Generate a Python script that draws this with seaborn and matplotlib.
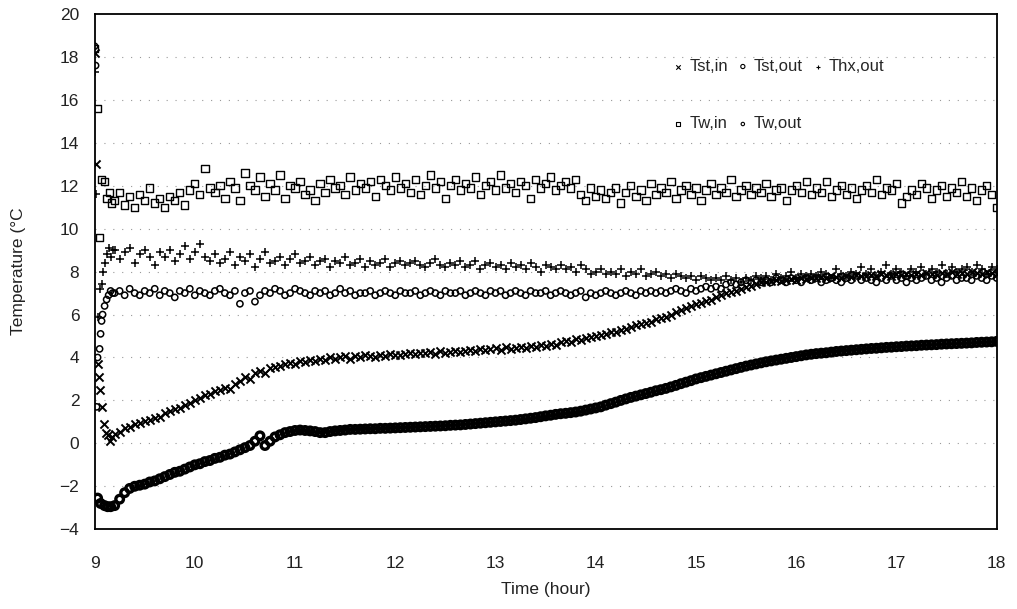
import numpy as np
import pandas as pd
import matplotlib
matplotlib.use("Agg")
import matplotlib.pyplot as plt
import seaborn as sns

# regular samples every 0.05 h from 9.20 to 18.00
t_grid = np.round(np.linspace(9.20, 18.00, 177), 2)

# ---- Tw,in (squares)
tw_in_t0 = [9.00, 9.03, 9.05, 9.07, 9.10, 9.12, 9.15, 9.17]
tw_in_v0 = [18.4, 15.6, 9.6, 12.3, 12.2, 11.4, 11.7, 11.2]
tw_in = [
    11.3, 11.7, 11.1, 11.5, 11.0, 11.6, 11.3, 11.9, 11.2, 11.4,
    11.0, 11.5, 11.3, 11.7, 11.1, 11.8, 12.1, 11.6, 12.8, 11.9,
    11.7, 12.0, 11.4, 12.2, 11.9, 11.3, 12.6, 12.0, 11.8, 12.4,
    11.5, 12.1, 11.8, 12.5, 11.4, 12.0, 11.9, 12.2, 11.6, 11.8,
    11.3, 12.1, 11.7, 12.3, 11.9, 12.0, 11.6, 12.4, 11.8, 12.1,
    11.9, 12.2, 11.5, 12.3, 12.0, 11.8, 12.4, 11.9, 12.1, 11.7,
    12.3, 11.6, 12.0, 12.5, 11.9, 12.2, 11.4, 12.0, 12.3, 11.8,
    12.1, 11.9, 12.4, 11.6, 12.0, 12.2, 11.8, 12.5, 11.9, 12.1,
    11.7, 12.2, 12.0, 11.4, 12.3, 11.9, 12.1, 12.4, 11.8, 12.0,
    12.2, 11.9, 12.3, 11.6, 11.3, 11.9, 11.5, 11.8, 11.4, 11.7,
    11.9, 11.2, 11.7, 12.0, 11.5, 11.8, 11.3, 12.1, 11.6, 11.9,
    11.7, 12.2, 11.4, 11.8, 12.0, 11.6, 11.9, 11.3, 11.8, 12.1,
    11.6, 11.9, 11.7, 12.3, 11.5, 11.8, 12.0, 11.6, 11.9, 11.7,
    12.1, 11.5, 11.8, 11.9, 11.3, 11.8, 12.0, 11.7, 12.2, 11.6,
    11.9, 11.7, 12.2, 11.5, 11.8, 12.0, 11.6, 11.9, 11.4, 11.8,
    12.0, 11.7, 12.3, 11.6, 11.9, 11.8, 12.1, 11.2, 11.5, 11.8,
    11.6, 12.1, 11.9, 11.4, 11.8, 12.0, 11.5, 11.9, 11.7, 12.2,
    11.5, 11.9, 11.3, 11.8, 12.0, 11.6, 11.0,
]

# ---- Thx,out (plus)
thx_t0 = [9.00, 9.01, 9.03, 9.05, 9.07, 9.08, 9.10, 9.12, 9.14, 9.16, 9.18]
thx_v0 = [17.3, 11.6, 5.9, 7.2, 7.4, 8.0, 8.4, 8.8, 9.1, 8.7, 9.0]
thx_out = [
    9.0, 8.6, 8.9, 9.1, 8.4, 8.8, 9.0, 8.7, 8.3, 8.9,
    8.7, 9.0, 8.5, 8.8, 9.2, 8.6, 8.9, 9.3, 8.7, 8.5,
    8.8, 8.4, 8.6, 8.9, 8.3, 8.7, 8.5, 8.8, 8.2, 8.6,
    8.9, 8.4, 8.5, 8.7, 8.3, 8.6, 8.8, 8.4, 8.5, 8.7,
    8.3, 8.5, 8.6, 8.2, 8.5, 8.4, 8.7, 8.3, 8.4, 8.6,
    8.2, 8.5, 8.3, 8.4, 8.6, 8.2, 8.4, 8.5, 8.3, 8.4,
    8.5, 8.3, 8.2, 8.4, 8.6, 8.3, 8.2, 8.4, 8.3, 8.5,
    8.2, 8.3, 8.5, 8.1, 8.3, 8.4, 8.2, 8.3, 8.1, 8.4,
    8.2, 8.3, 8.1, 8.4, 8.2, 8.0, 8.3, 8.2, 8.1, 8.3,
    8.1, 8.2, 8.0, 8.3, 8.1, 7.9, 8.0, 8.1, 7.9, 8.0,
    7.9, 8.1, 7.8, 8.0, 7.9, 8.1, 7.8, 7.9, 8.0, 7.8,
    7.9, 7.7, 7.9, 7.8, 7.7, 7.8, 7.6, 7.8, 7.7, 7.6,
    7.7, 7.6, 7.8, 7.6, 7.7, 7.5, 7.7, 7.6, 7.8, 7.7,
    7.8, 7.6, 7.9, 7.7, 7.8, 8.0, 7.7, 7.9, 7.8, 7.9,
    7.8, 8.0, 7.9, 7.7, 8.1, 7.9, 7.8, 8.0, 7.9, 8.2,
    7.9, 8.1, 7.8, 8.0, 8.3, 7.9, 8.1, 8.0, 7.8, 8.1,
    8.0, 8.2, 7.9, 8.1, 8.0, 8.3, 7.9, 8.2, 8.0, 8.1,
    8.2, 8.0, 8.3, 8.1, 7.9, 8.2, 8.1,
]

# ---- Tw,out (small circles)
tw_out_t0 = [9.00, 9.01, 9.02, 9.03, 9.05, 9.06, 9.07, 9.08, 9.10, 9.12, 9.14, 9.16, 9.18]
tw_out_v0 = [18.5, 17.6, 1.7, 4.0, 4.4, 5.1, 5.7, 6.0, 6.4, 6.7, 6.9, 7.1, 7.0]
tw_out = [
    7.0, 7.1, 6.9, 7.2, 7.0, 6.9, 7.1, 7.0, 7.2, 6.9,
    7.1, 7.0, 6.8, 7.1, 7.0, 7.2, 6.9, 7.1, 7.0, 6.9,
    7.1, 7.2, 7.0, 6.9, 7.1, 6.5, 7.0, 7.1, 6.6, 6.9,
    7.1, 7.0, 7.2, 7.1, 6.9, 7.0, 7.2, 7.1, 7.0, 6.9,
    7.1, 7.0, 7.1, 6.9, 7.0, 7.2, 7.0, 7.1, 6.9, 7.0,
    7.0, 7.1, 6.9, 7.0, 7.1, 7.0, 6.9, 7.1, 7.0, 7.0,
    7.1, 6.9, 7.0, 7.1, 7.0, 6.9, 7.1, 7.0, 7.0, 7.1,
    6.9, 7.0, 7.1, 7.0, 6.9, 7.1, 7.0, 7.1, 6.9, 7.0,
    7.1, 7.0, 6.9, 7.1, 7.0, 7.0, 7.1, 6.9, 7.0, 7.1,
    7.0, 6.9, 7.0, 7.1, 6.8, 7.0, 6.9, 7.0, 7.1, 7.0,
    6.9, 7.0, 7.1, 7.0, 6.9, 7.1, 7.0, 7.1, 7.0, 7.1,
    7.0, 7.1, 7.2, 7.1, 7.0, 7.2, 7.1, 7.2, 7.3, 7.2,
    7.3, 7.2, 7.4, 7.5, 7.4, 7.5, 7.6, 7.5, 7.6, 7.5,
    7.6, 7.5, 7.7, 7.6, 7.5, 7.7, 7.6, 7.5, 7.7, 7.6,
    7.7, 7.5, 7.6, 7.7, 7.6, 7.5, 7.7, 7.6, 7.8, 7.6,
    7.7, 7.6, 7.5, 7.7, 7.6, 7.8, 7.6, 7.7, 7.5, 7.7,
    7.6, 7.7, 7.8, 7.6, 7.7, 7.5, 7.7, 7.8, 7.6, 7.7,
    7.7, 7.6, 7.8, 7.7, 7.6, 7.8, 7.7,
]

# ---- Tst,in (crosses)
tst_in_t0 = [9.00, 9.01, 9.03, 9.04, 9.05, 9.07, 9.09, 9.11, 9.13, 9.15, 9.17]
tst_in_v0 = [18.2, 13.0, 3.7, 3.1, 2.5, 1.7, 0.9, 0.5, 0.4, 0.1, 0.3]
tst_in = [
    0.45, 0.55, 0.7, 0.75, 0.9, 0.95, 1.05, 1.1, 1.2, 1.25,
    1.4, 1.5, 1.6, 1.65, 1.8, 1.9, 2.0, 2.1, 2.25, 2.3,
    2.45, 2.5, 2.6, 2.55, 2.75, 2.9, 3.1, 3.0, 3.3, 3.35,
    3.3, 3.5, 3.55, 3.6, 3.7, 3.75, 3.7, 3.85, 3.8, 3.9,
    3.85, 3.95, 3.9, 4.0, 3.95, 4.0, 4.05, 3.95, 4.05, 4.0,
    4.1, 4.05, 4.0, 4.1, 4.05, 4.15, 4.1, 4.1, 4.15, 4.2,
    4.15, 4.2, 4.2, 4.25, 4.15, 4.3, 4.2, 4.25, 4.3, 4.25,
    4.3, 4.35, 4.3, 4.4, 4.35, 4.4, 4.45, 4.35, 4.5, 4.4,
    4.45, 4.5, 4.45, 4.55, 4.5, 4.6, 4.55, 4.65, 4.6, 4.7,
    4.75, 4.7, 4.85, 4.8, 4.9, 4.95, 5.0, 5.05, 5.1, 5.2,
    5.2, 5.3, 5.35, 5.4, 5.5, 5.55, 5.6, 5.65, 5.8, 5.85,
    5.9, 6.0, 6.1, 6.2, 6.3, 6.4, 6.5, 6.55, 6.65, 6.7,
    6.8, 6.9, 7.0, 7.05, 7.1, 7.2, 7.3, 7.35, 7.4, 7.5,
    7.5, 7.55, 7.6, 7.55, 7.6, 7.65, 7.6, 7.7, 7.65, 7.7,
    7.7, 7.75, 7.7, 7.8, 7.75, 7.7, 7.8, 7.75, 7.85, 7.8,
    7.8, 7.85, 7.8, 7.9, 7.85, 7.8, 7.9, 7.85, 7.9, 7.85,
    7.9, 7.85, 7.95, 7.9, 7.85, 7.95, 7.9, 8.0, 7.9, 7.95,
    7.9, 8.0, 7.95, 7.9, 8.0, 7.95, 7.9,
]

# ---- Tst,out (small circles, bottom curve)
tst_out_t0 = [9.03, 9.06, 9.10, 9.13, 9.16]
tst_out_v0 = [-2.55, -2.8, -2.9, -2.95, -2.95]
tst_out = [
    -2.9, -2.6, -2.3, -2.1, -2.0, -1.95, -1.9, -1.8, -1.75, -1.65,
    -1.55, -1.45, -1.35, -1.3, -1.2, -1.1, -1.0, -0.95, -0.85, -0.8,
    -0.7, -0.65, -0.55, -0.5, -0.4, -0.3, -0.2, -0.1, 0.1, 0.35,
    -0.1, 0.1, 0.3, 0.4, 0.5, 0.55, 0.6, 0.62, 0.6, 0.58,
    0.55, 0.5, 0.5, 0.55, 0.58, 0.6, 0.62, 0.65, 0.65, 0.66,
    0.67, 0.68, 0.68, 0.7, 0.7, 0.71, 0.72, 0.73, 0.74, 0.75,
    0.76, 0.77, 0.78, 0.79, 0.8, 0.81, 0.82, 0.84, 0.85, 0.86,
    0.88, 0.9, 0.92, 0.94, 0.96, 0.98, 1.0, 1.02, 1.04, 1.06,
    1.08, 1.11, 1.14, 1.17, 1.2, 1.24, 1.28, 1.31, 1.35, 1.38,
    1.4, 1.43, 1.46, 1.5, 1.55, 1.6, 1.65, 1.7, 1.78, 1.85,
    1.92, 2.0, 2.07, 2.14, 2.2, 2.26, 2.32, 2.38, 2.45, 2.5,
    2.56, 2.63, 2.7, 2.78, 2.85, 2.92, 3.0, 3.06, 3.12, 3.18,
    3.24, 3.3, 3.36, 3.42, 3.48, 3.54, 3.6, 3.65, 3.7, 3.75,
    3.8, 3.84, 3.88, 3.92, 3.96, 4.0, 4.04, 4.08, 4.12, 4.15,
    4.18, 4.2, 4.22, 4.25, 4.28, 4.3, 4.32, 4.34, 4.36, 4.38,
    4.4, 4.42, 4.43, 4.45, 4.47, 4.48, 4.5, 4.51, 4.53, 4.54,
    4.55, 4.57, 4.58, 4.59, 4.6, 4.62, 4.63, 4.64, 4.65, 4.66,
    4.67, 4.68, 4.7, 4.71, 4.72, 4.73, 4.75,
]

x_ticks = [9, 10, 11, 12, 13, 14, 15, 16, 17, 18]
y_ticks = [-4, -2, 0, 2, 4, 6, 8, 10, 12, 14, 16, 18, 20]


def series(t0, v0, v):
    return pd.DataFrame({"t": list(t0) + list(t_grid), "T": list(v0) + list(v)})


sns.set_style("white")
plt.rcParams["font.family"] = ["Liberation Sans", "DejaVu Sans"]

fig, ax = plt.subplots(figsize=(10.17, 6.09), dpi=100)
fig.subplots_adjust(left=0.093, right=0.980, bottom=0.131, top=0.977)

for y in y_ticks[1:-1]:
    ax.axhline(y, color="#9a9a9a", lw=0.8, ls=(0, (1, 7)), zorder=0)

d = series(tst_in_t0, tst_in_v0, tst_in)
sns.scatterplot(data=d, x="t", y="T", marker="x", color="black", s=34,
                linewidth=1.4, label="Tst,in", ax=ax)
d = series(tw_in_t0, tw_in_v0, tw_in)
sns.scatterplot(data=d, x="t", y="T", marker="s", facecolor="none",
                edgecolor="black", s=28, linewidth=1.0, label="Tw,in", ax=ax)
d = series(tst_out_t0, tst_out_v0, tst_out)
sns.scatterplot(data=d, x="t", y="T", marker="o", facecolor="none",
                edgecolor="black", s=30, linewidth=2.4, label="Tst,out", ax=ax)
d = series(tw_out_t0, tw_out_v0, tw_out)
sns.scatterplot(data=d, x="t", y="T", marker="o", facecolor="none",
                edgecolor="black", s=20, linewidth=1.1, label="Tw,out", ax=ax)
d = series(thx_t0, thx_v0, thx_out)
sns.scatterplot(data=d, x="t", y="T", marker="+", color="black", s=40,
                linewidth=1.1, label="Thx,out", ax=ax)

handles, labels = ax.get_legend_handles_labels()
order = ["Tst,in", "Tw,in", "Tst,out", "Tw,out", "Thx,out"]
hmap = dict(zip(labels, handles))
leg = ax.legend([hmap[k] for k in order], order, ncol=3, frameon=False,
                loc="upper left", bbox_to_anchor=(0.625, 0.942), fontsize=12,
                handlelength=0.6, handletextpad=0.35, columnspacing=0.6,
                labelspacing=2.55, markerscale=0.55)
for h in leg.legend_handles:
    h.set_linewidth(0.8)

ax.set_xlim(9, 18)
ax.set_ylim(-4, 20)
ax.set_xticks(x_ticks)
ax.set_yticks(y_ticks)
ax.tick_params(axis="both", length=0, labelsize=12.5, colors="#222222")
ax.tick_params(axis="x", pad=19)
ax.tick_params(axis="y", pad=11)
ax.set_xlabel("Time (hour)", fontsize=12.5, color="#222222", labelpad=8)
ax.set_ylabel("Temperature (\u00b0C", fontsize=12.5, color="#222222", labelpad=24)
for sp in ax.spines.values():
    sp.set_visible(True)
    sp.set_color("black")
    sp.set_linewidth(1.3)

fig.savefig("out.png", dpi=100)
